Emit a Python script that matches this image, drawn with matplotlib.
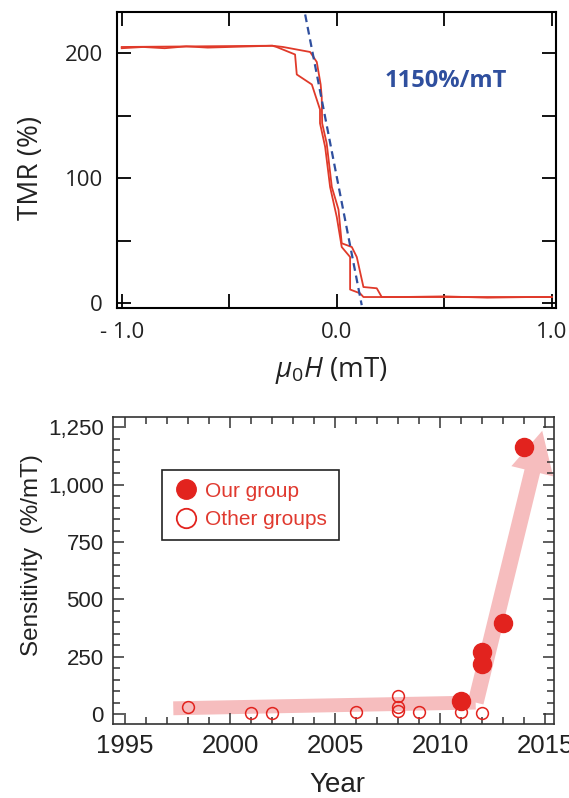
import matplotlib
matplotlib.use("Agg")
import matplotlib.pyplot as plt
from matplotlib.ticker import MultipleLocator, FuncFormatter
from matplotlib.lines import Line2D

# ---------------------------------------------------------------------------
# Data
# ---------------------------------------------------------------------------

# Top panel: TMR hysteresis loop, two sweep branches
H_BRANCH_A = [-1.0, -0.9, -0.8, -0.7, -0.6, -0.5, -0.4, -0.30, -0.25, -0.124,
              -0.093, -0.075, -0.070, -0.068, -0.047, -0.023, 0.008, 0.023,
              0.070, 0.093, 0.124, 0.186, 0.209, 0.30, 0.5, 0.7, 0.9, 1.0]
TMR_BRANCH_A = [204, 205, 204, 205.5, 204.5, 205, 205.5, 206, 205, 201,
                193, 175, 165, 144, 128, 93, 75, 48,
                45, 37, 13, 12, 5, 5, 5.5, 4.5, 5, 5]

H_BRANCH_B = [-1.0, -0.3, -0.28, -0.194, -0.186, -0.116, -0.078, -0.078,
              -0.054, -0.031, 0.0, 0.023, 0.062, 0.062, 0.108, 0.124, 0.25, 1.0]
TMR_BRANCH_B = [205, 206, 205, 199, 183, 175, 155, 144,
                125, 93, 69, 45, 37, 11, 8, 5, 5, 5]

FIT_H = [-0.147, 0.116]
FIT_TMR = [231, -1.5]
SLOPE_LABEL = "1150%/mT"

# Bottom panel: sensitivity vs year
OUR_YEAR = [2011, 2012, 2012, 2013, 2014]
OUR_SENS = [57, 272, 218, 395, 1163]
OTHER_YEAR = [1998, 2001, 2002, 2006, 2008, 2008, 2008, 2009, 2011, 2012]
OTHER_SENS = [32, 6, 6, 7, 80, 32, 14, 8, 10, 5]

TREND_YEAR = [1997.3, 2011.7, 2014.87]
TREND_SENS = [25, 50, 1235]

RED = "#E2231E"
LINE_RED = "#E03A2A"
BLUE = "#2F4F9E"
PINK = "#F6BDBE"

fig = plt.figure(figsize=(5.69, 7.98), dpi=100)

# ---------------------------------------------------------------------------
# Top panel
# ---------------------------------------------------------------------------
top_font = "Open Sans"
plt.rcParams["mathtext.fontset"] = "custom"
plt.rcParams["mathtext.it"] = "Open Sans:italic"
plt.rcParams["mathtext.rm"] = "Open Sans"

ax1 = fig.add_axes([0.2056, 0.614, 0.7714, 0.371])
ax1.plot(H_BRANCH_A, TMR_BRANCH_A, color=LINE_RED, lw=1.3)
ax1.plot(H_BRANCH_B, TMR_BRANCH_B, color=LINE_RED, lw=1.3)
ax1.plot(FIT_H, FIT_TMR, color=BLUE, lw=1.6, ls=(0, (3.5, 2.2)))
ax1.text(0.508, 178, SLOPE_LABEL, color=BLUE, fontsize=17, fontweight="bold",
         family=top_font, ha="center", va="center")

ax1.set_xlim(-1.022, 1.019)
ax1.set_ylim(-3.8, 233)
ax1.set_xticks([-1.0, -0.5, 0.0, 0.5, 1.0])
ax1.set_xticklabels(["- 1.0", "", "0.0", "", "1.0"])
ax1.set_yticks([0, 50, 100, 150, 200])
ax1.set_yticklabels(["0", "", "100", "", "200"])
ax1.tick_params(direction="in", length=10, width=1.3, top=True, right=True,
                labelsize=16, pad=10)
for lab in ax1.get_xticklabels() + ax1.get_yticklabels():
    lab.set_family(top_font)
    lab.set_color("#222222")
for s in ax1.spines.values():
    s.set_linewidth(1.5)

fig.text(0.0545, 0.789, "TMR (%)", rotation=90, ha="center", va="center",
         fontsize=20, family=top_font, color="#222222")
fig.text(0.583, 0.536, r"$\mu_0H$ (mT)", ha="center", va="center",
         fontsize=20, family=top_font, color="#222222")

# ---------------------------------------------------------------------------
# Bottom panel
# ---------------------------------------------------------------------------
bot_font = "Liberation Sans"
ax2 = fig.add_axes([0.199, 0.0927, 0.7746, 0.3843])

ax2.plot(TREND_YEAR[:2], TREND_SENS[:2], color=PINK, lw=10,
         solid_capstyle="butt", zorder=1)
ax2.annotate("", xy=(TREND_YEAR[2], TREND_SENS[2]),
             xytext=(TREND_YEAR[1], TREND_SENS[1]),
             arrowprops=dict(arrowstyle="simple,head_length=3.0,head_width=3.1,tail_width=1.15",
                             mutation_scale=10, color=PINK, lw=0,
                             shrinkA=0, shrinkB=0),
             zorder=1)

ax2.plot(OTHER_YEAR, OTHER_SENS, ls="none", marker="o", ms=8.5,
         mfc="none", mec=RED, mew=1.1, zorder=3)
ax2.plot(OUR_YEAR, OUR_SENS, ls="none", marker="o", ms=13,
         mfc=RED, mec=RED, zorder=4)

ax2.set_xlim(1994.44, 2015.43)
ax2.set_ylim(-43.6, 1293.6)
ax2.set_xticks(range(1995, 2016, 5))
ax2.xaxis.set_minor_locator(MultipleLocator(1))
ax2.set_yticks(range(0, 1251, 250))
ax2.yaxis.set_minor_locator(MultipleLocator(50))
ax2.yaxis.set_major_formatter(FuncFormatter(lambda v, p: f"{v:,.0f}"))
ax2.tick_params(which="both", direction="in", top=True, right=True,
                color="#333333", width=1.1)
ax2.tick_params(which="major", length=8)
ax2.tick_params(which="minor", length=5)
ax2.tick_params(axis="x", which="major", labelsize=18.5, pad=7)
ax2.tick_params(axis="y", which="major", labelsize=16, pad=7)
for lab in ax2.get_xticklabels() + ax2.get_yticklabels():
    lab.set_family(bot_font)
    lab.set_color("#222222")
for s in ax2.spines.values():
    s.set_linewidth(1.2)
    s.set_color("#333333")

handles = [
    Line2D([], [], ls="none", marker="o", ms=14, mfc=RED, mec=RED),
    Line2D([], [], ls="none", marker="o", ms=14, mfc="white", mec=RED, mew=1.3),
]
leg = ax2.legend(handles, ["Our group", "Other groups"], loc="upper left",
                 bbox_to_anchor=(0.11, 0.828), borderaxespad=0, fancybox=False,
                 edgecolor="#222222", framealpha=1, handletextpad=0.35,
                 borderpad=0.55, labelspacing=0.45, handlelength=1.2,
                 prop={"family": bot_font, "size": 15})
leg.get_frame().set_linewidth(1.2)
for t in leg.get_texts():
    t.set_color("#E0392F")

fig.text(0.056, 0.3045, "Sensitivity  (%/mT)", rotation=90, ha="center",
         va="center", fontsize=17.5, family=bot_font, color="#222222")
fig.text(0.593, 0.008, "Year", ha="center", va="baseline", fontsize=20,
         family=bot_font, color="#222222")

fig.savefig("out.png", dpi=100)
